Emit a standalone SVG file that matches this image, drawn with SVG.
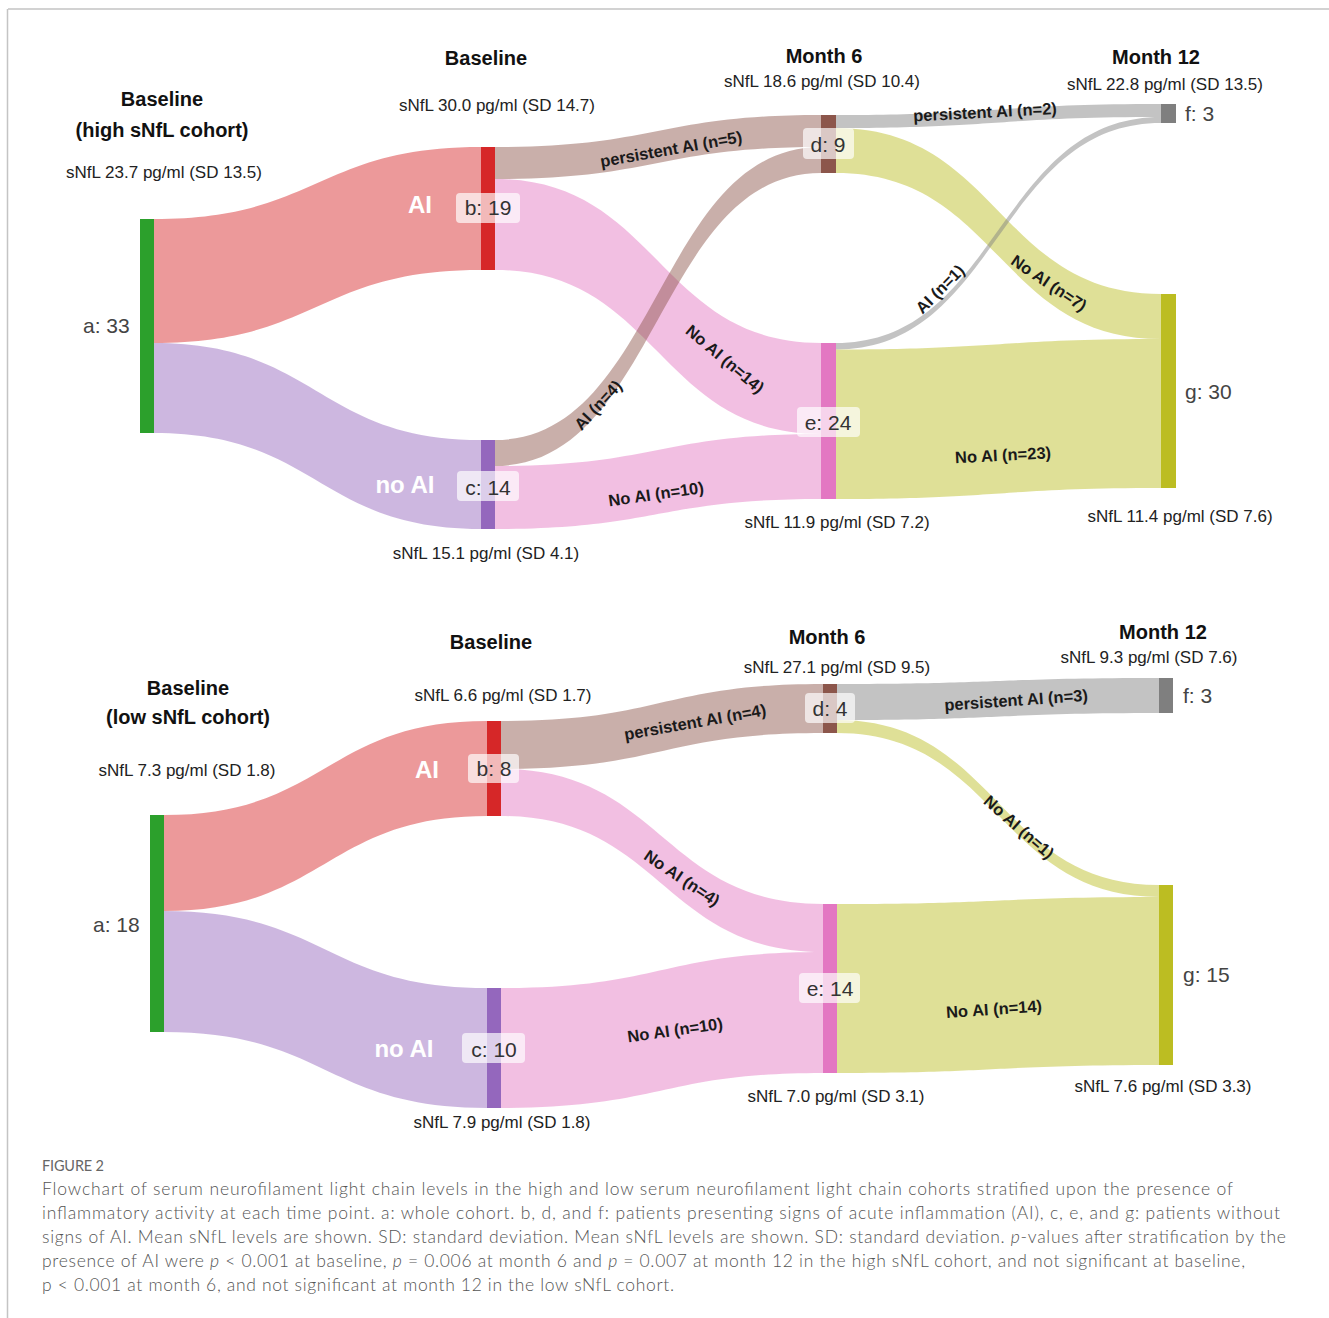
<svg xmlns="http://www.w3.org/2000/svg" width="1329" height="1318" viewBox="0 0 1329 1318">
<style>
.hd{font-family:"Liberation Sans",Arial,sans-serif;font-weight:bold;font-size:20px;fill:#111;text-anchor:middle}
.sn{font-family:"Liberation Sans",Arial,sans-serif;font-size:17px;fill:#222;text-anchor:middle}
.nl{font-family:"Liberation Sans",Arial,sans-serif;font-size:21px;fill:#444}
.wl{font-family:"Liberation Sans",Arial,sans-serif;font-weight:bold;font-size:24px;fill:#fff;text-anchor:middle}
.bxr{fill:#fff;fill-opacity:0.68}
.bt{font-family:"Liberation Sans",Arial,sans-serif;font-size:21px;fill:#333;text-anchor:middle}
.ll{font-family:"Liberation Sans",Arial,sans-serif;font-weight:bold;font-size:16.5px;fill:#1a1a1a;text-anchor:middle}
.lk{fill-opacity:0.47}
.cap{font-family:Lato,"Liberation Sans",sans-serif;font-weight:300;font-size:17.5px;fill:#555}
.fig{font-family:Lato,"Liberation Sans",sans-serif;font-size:14.5px;fill:#666}
</style>
<rect width="1329" height="1318" fill="#fff"/>
<path d="M8,9 H1329 M7.5,9 V1318" stroke="#c4c4c4" stroke-width="1.5" fill="none"/>

<!-- ===== TOP PANEL ===== -->
<g id="connectors-top">
  <path class="lk" fill="#d62728" d="M154,219 C317.5,219 317.5,147 481,147 L481,270 C317.5,270 317.5,343 154,343 Z"/>
  <path class="lk" fill="#9467bd" d="M154,343 C317.5,343 317.5,440 481,440 L481,529 C317.5,529 317.5,433 154,433 Z"/>
  <path class="lk" fill="#8c564b" d="M495,147 C658,147 658,115 821,115 L821,147 C658,147 658,179 495,179 Z"/>
  <path class="lk" fill="#e377c2" d="M495,179 C658,179 658,343 821,343 L821,434 C658,434 658,270 495,270 Z"/>
  <path class="lk" fill="#8c564b" d="M495,440 C658,440 658,147 821,147 L821,173 C658,173 658,466 495,466 Z"/>
  <path class="lk" fill="#e377c2" d="M495,466 C658,466 658,434 821,434 L821,499 C658,499 658,529 495,529 Z"/>
  <path class="lk" fill="#7f7f7f" d="M836,115 C998.5,115 998.5,104 1161,104 L1161,117 C998.5,117 998.5,128 836,128 Z"/>
  <path class="lk" fill="#bcbd22" d="M836,128 C998.5,128 998.5,294 1161,294 L1161,339 C998.5,339 998.5,173 836,173 Z"/>
  <path class="lk" fill="#7f7f7f" d="M836,343 C998.5,343 998.5,117 1161,117 L1161,123 C998.5,123 998.5,349.5 836,349.5 Z"/>
  <path class="lk" fill="#bcbd22" d="M836,349.5 C998.5,349.5 998.5,339 1161,339 L1161,488 C998.5,488 998.5,499 836,499 Z"/>
  <text class="ll" transform="translate(671,149) rotate(-10)" dy="0.35em">persistent AI (n=5)</text>
  <text class="ll" transform="translate(725,359) rotate(40)" dy="0.35em">No AI (n=14)</text>
  <text class="ll" transform="translate(598,405) rotate(-47)" dy="0.35em">AI (n=4)</text>
  <text class="ll" transform="translate(656,494) rotate(-8)" dy="0.35em">No AI (n=10)</text>
  <text class="ll" transform="translate(985,112) rotate(-3)" dy="0.35em">persistent AI (n=2)</text>
  <text class="ll" transform="translate(1049,283) rotate(34)" dy="0.35em">No AI (n=7)</text>
  <text class="ll" transform="translate(940,289) rotate(-45)" dy="0.35em">AI (n=1)</text>
  <text class="ll" transform="translate(1003,455) rotate(-3)" dy="0.35em">No AI (n=23)</text>
</g>

<g id="top-headings">
  <text class="hd" x="162" y="106">Baseline</text>
  <text class="hd" x="162" y="137">(high sNfL cohort)</text>
  <text class="sn" x="164" y="178">sNfL 23.7 pg/ml (SD 13.5)</text>
  <text class="hd" x="486" y="65">Baseline</text>
  <text class="sn" x="497" y="111">sNfL 30.0 pg/ml (SD 14.7)</text>
  <text class="hd" x="824" y="63">Month 6</text>
  <text class="sn" x="822" y="87">sNfL 18.6 pg/ml (SD 10.4)</text>
  <text class="hd" x="1156" y="64">Month 12</text>
  <text class="sn" x="1165" y="90">sNfL 22.8 pg/ml (SD 13.5)</text>
  <text class="sn" x="486" y="559">sNfL 15.1 pg/ml (SD 4.1)</text>
  <text class="sn" x="837" y="528">sNfL 11.9 pg/ml (SD 7.2)</text>
  <text class="sn" x="1180" y="522">sNfL 11.4 pg/ml (SD 7.6)</text>
</g>

<g id="top-a"><rect x="140" y="219" width="14" height="214" fill="#2ca02c"/><text class="nl" x="83" y="333">a: 33</text></g>
<g id="top-b"><rect x="481" y="147" width="14" height="123" fill="#d62728"/><text class="wl" x="420" y="213">AI</text><rect class="bxr" x="456" y="193" width="64" height="30" rx="4"/><text class="bt" x="488" y="215">b: 19</text></g>
<g id="top-c"><rect x="481" y="440" width="14" height="89" fill="#9467bd"/><text class="wl" x="405" y="493">no AI</text><rect class="bxr" x="457" y="471" width="62" height="30" rx="4"/><text class="bt" x="488" y="495">c: 14</text></g>
<g id="top-d"><rect x="821" y="115" width="15" height="58" fill="#8c564b"/><rect class="bxr" x="803" y="128" width="51" height="31" rx="4"/><text class="bt" x="828" y="152">d: 9</text></g>
<g id="top-e"><rect x="821" y="343" width="15" height="156" fill="#e377c2"/><rect class="bxr" x="797" y="407" width="63" height="30" rx="4"/><text class="bt" x="828" y="430">e: 24</text></g>
<g id="top-f"><rect x="1161" y="104" width="15" height="19" fill="#7f7f7f"/><text class="nl" x="1185" y="121">f: 3</text></g>
<g id="top-g"><rect x="1161" y="294" width="15" height="194" fill="#bcbd22"/><text class="nl" x="1185" y="399">g: 30</text></g>

<!-- ===== BOTTOM PANEL ===== -->
<g id="connectors-bottom">
  <path class="lk" fill="#d62728" d="M164,815 C325.5,815 325.5,721 487,721 L487,816 C325.5,816 325.5,911 164,911 Z"/>
  <path class="lk" fill="#9467bd" d="M164,911 C325.5,911 325.5,988 487,988 L487,1108 C325.5,1108 325.5,1032 164,1032 Z"/>
  <path class="lk" fill="#8c564b" d="M501,721 C662,721 662,684 823,684 L823,733 C662,733 662,769 501,769 Z"/>
  <path class="lk" fill="#e377c2" d="M501,769 C662,769 662,904 823,904 L823,952 C662,952 662,816 501,816 Z"/>
  <path class="lk" fill="#e377c2" d="M501,988 C662,988 662,952 823,952 L823,1073 C662,1073 662,1108 501,1108 Z"/>
  <path class="lk" fill="#7f7f7f" d="M837,684 C998,684 998,678 1159,678 L1159,713 C998,713 998,720 837,720 Z"/>
  <path class="lk" fill="#bcbd22" d="M837,720 C998,720 998,885 1159,885 L1159,897 C998,897 998,733 837,733 Z"/>
  <path class="lk" fill="#bcbd22" d="M837,904 C998,904 998,897 1159,897 L1159,1065 C998,1065 998,1073 837,1073 Z"/>
  <text class="ll" transform="translate(695,722) rotate(-10)" dy="0.35em">persistent AI (n=4)</text>
  <text class="ll" transform="translate(682,878) rotate(34)" dy="0.35em">No AI (n=4)</text>
  <text class="ll" transform="translate(675,1030) rotate(-8)" dy="0.35em">No AI (n=10)</text>
  <text class="ll" transform="translate(1016,700) rotate(-4)" dy="0.35em">persistent AI (n=3)</text>
  <text class="ll" transform="translate(1019,827) rotate(41)" dy="0.35em">No AI (n=1)</text>
  <text class="ll" transform="translate(994,1009) rotate(-4)" dy="0.35em">No AI (n=14)</text>
</g>

<g id="bottom-headings">
  <text class="hd" x="188" y="695">Baseline</text>
  <text class="hd" x="188" y="724">(low sNfL cohort)</text>
  <text class="sn" x="187" y="776">sNfL 7.3 pg/ml (SD 1.8)</text>
  <text class="hd" x="491" y="649">Baseline</text>
  <text class="sn" x="503" y="701">sNfL 6.6 pg/ml (SD 1.7)</text>
  <text class="hd" x="827" y="644">Month 6</text>
  <text class="sn" x="837" y="673">sNfL 27.1 pg/ml (SD 9.5)</text>
  <text class="hd" x="1163" y="639">Month 12</text>
  <text class="sn" x="1149" y="663">sNfL 9.3 pg/ml (SD 7.6)</text>
  <text class="sn" x="502" y="1128">sNfL 7.9 pg/ml (SD 1.8)</text>
  <text class="sn" x="836" y="1102">sNfL 7.0 pg/ml (SD 3.1)</text>
  <text class="sn" x="1163" y="1092">sNfL 7.6 pg/ml (SD 3.3)</text>
</g>

<g id="bot-a"><rect x="150" y="815" width="14" height="217" fill="#2ca02c"/><text class="nl" x="93" y="932">a: 18</text></g>
<g id="bot-b"><rect x="487" y="721" width="14" height="95" fill="#d62728"/><text class="wl" x="427" y="778">AI</text><rect class="bxr" x="468" y="754" width="51" height="29" rx="4"/><text class="bt" x="494" y="776">b: 8</text></g>
<g id="bot-c"><rect x="487" y="988" width="14" height="120" fill="#9467bd"/><text class="wl" x="404" y="1057">no AI</text><rect class="bxr" x="462" y="1033" width="63" height="30" rx="4"/><text class="bt" x="494" y="1057">c: 10</text></g>
<g id="bot-d"><rect x="823" y="684" width="14" height="49" fill="#8c564b"/><rect class="bxr" x="805" y="693" width="50" height="30" rx="4"/><text class="bt" x="830" y="716">d: 4</text></g>
<g id="bot-e"><rect x="823" y="904" width="14" height="169" fill="#e377c2"/><rect class="bxr" x="799" y="973" width="61" height="30" rx="4"/><text class="bt" x="830" y="996">e: 14</text></g>
<g id="bot-f"><rect x="1159" y="678" width="14" height="35" fill="#7f7f7f"/><text class="nl" x="1183" y="703">f: 3</text></g>
<g id="bot-g"><rect x="1159" y="885" width="14" height="180" fill="#bcbd22"/><text class="nl" x="1183" y="982">g: 15</text></g>

<!-- ===== CAPTION ===== -->
<g id="caption">
  <text class="fig" x="42" y="1171" textLength="62">FIGURE 2</text>
  <text class="cap" x="42" y="1195" textLength="1191">Flowchart of serum neurofilament light chain levels in the high and low serum neurofilament light chain cohorts stratified upon the presence of</text>
  <text class="cap" x="42" y="1219" textLength="1238">inflammatory activity at each time point. a: whole cohort. b, d, and f: patients presenting signs of acute inflammation (AI), c, e, and g: patients without</text>
  <text class="cap" x="42" y="1243" textLength="1244">signs of AI. Mean sNfL levels are shown. SD: standard deviation. Mean sNfL levels are shown. SD: standard deviation. <tspan font-style="italic">p</tspan>-values after stratification by the</text>
  <text class="cap" x="42" y="1267" textLength="1203">presence of AI were <tspan font-style="italic">p</tspan> &lt; 0.001 at baseline, <tspan font-style="italic">p</tspan> = 0.006 at month 6 and <tspan font-style="italic">p</tspan> = 0.007 at month 12 in the high sNfL cohort, and not significant at baseline,</text>
  <text class="cap" x="42" y="1291" textLength="632">p &lt; 0.001 at month 6, and not significant at month 12 in the low sNfL cohort.</text>
</g>
</svg>
